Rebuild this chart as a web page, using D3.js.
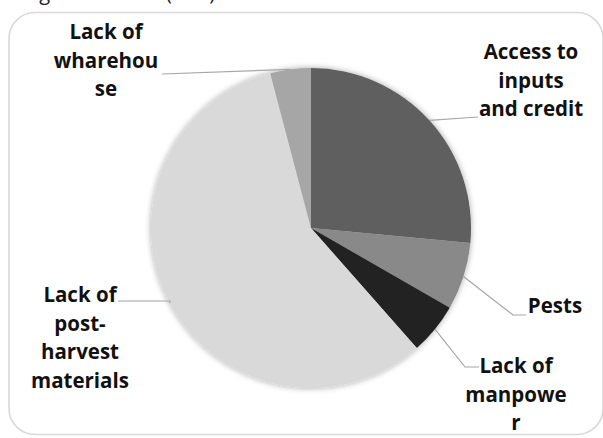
<!DOCTYPE html>
<html>
<head>
<meta charset="utf-8">
<script src="https://cdn.jsdelivr.net/npm/d3@7"></script>
<style>
  html, body { margin: 0; padding: 0; background: #fff; }
  svg { display: block; }
  .slice-label { font-family: "Open Sans", "DejaVu Sans", sans-serif; font-weight: bold; font-size: 20.5px; fill: #111; }
</style>
</head>
<body>
<div id="chart"></div>
<script>
// categories, clockwise from 12 o'clock
const categories = ["Access to inputs and credit", "Pests", "Lack of manpower",
  "Lack of post-harvest materials", "Lack of wharehouse"];
const values = [26.5, 6.8, 5.2, 57.4, 4.1];
const colors = ["#5f5f5f", "#898989", "#222222", "#d9d9d9", "#a6a6a6"];
// label text as wrapped in the original
const labelLines = [
  ["Access to", "inputs", "and credit"],
  ["Pests"],
  ["Lack of", "manpowe", "r"],
  ["Lack of", "post-", "harvest", "materials"],
  ["Lack of", "wharehou", "se"]
];

(function() {
  const width = 603, height = 438;
  const cx = 311, cy = 228, radius = 160;
  const lineH = 28.5;
  // label placement (centre x, first baseline) and leader elbow
  const layout = [
    {x: 531, y: 59, elbow: [478, 117], end: [478, 117]},
    {x: 555, y: 313, elbow: [513, 315], end: [526, 315]},
    {x: 516, y: 373, elbow: [465, 367], end: [479, 367]},
    {x: 80, y: 302, elbow: [170, 301], end: [118, 301]},
    {x: 106, y: 39, elbow: [162, 74], end: [162, 74]}
  ];

  const svg = d3.select("#chart").append("svg")
      .attr("width", width)
      .attr("height", height);

  const defs = svg.append("defs");
  const f = defs.append("filter").attr("id", "soft")
      .attr("x", "-10%").attr("y", "-10%").attr("width", "120%").attr("height", "120%");
  f.append("feGaussianBlur").attr("in", "SourceAlpha").attr("stdDeviation", 3).attr("result", "b");
  f.append("feComponentTransfer").attr("in", "b").attr("result", "s")
    .append("feFuncA").attr("type", "linear").attr("slope", 0.35);
  const m = f.append("feMerge");
  m.append("feMergeNode").attr("in", "s");
  m.append("feMergeNode").attr("in", "SourceGraphic");

  // clipped title above the chart frame
  svg.append("text")
      .attr("x", 24).attr("y", 0)
      .style("font-family", "'Open Sans', sans-serif").style("font-size", "20px").style("fill", "#222")
      .text("Figure");
  svg.append("text")
      .attr("x", 166).attr("y", 0)
      .style("font-family", "'Open Sans', sans-serif").style("font-size", "20px").style("fill", "#222")
      .attr("xml:space", "preserve")
      .text("(  %  )");

  // chart frame
  svg.append("rect")
      .attr("x", 9).attr("y", 12.5)
      .attr("width", 594).attr("height", 422)
      .attr("rx", 26).attr("ry", 26)
      .style("fill", "#fff")
      .style("stroke", "#d9d9d9")
      .style("stroke-width", 1.6);

  const pie = d3.pie().sort(null).value(d => d);
  const arcs = pie(values);
  const arc = d3.arc().innerRadius(0).outerRadius(radius);

  const g = svg.append("g").attr("transform", "translate(" + cx + "," + cy + ")");
  g.append("g").attr("filter", "url(#soft)")
    .selectAll("path")
    .data(arcs)
    .enter().append("path")
      .attr("d", arc)
      .style("fill", (d, i) => colors[i]);

  // leader lines
  arcs.forEach((d, i) => {
    const a = (d.startAngle + d.endAngle) / 2;
    const px = cx + radius * Math.sin(a), py = cy - radius * Math.cos(a);
    const L = layout[i];
    svg.append("polyline")
        .attr("points", [[px, py], L.elbow, L.end].map(p => p.join(",")).join(" "))
        .style("fill", "none")
        .style("stroke", "#a6a6a6")
        .style("stroke-width", 1.2);
  });

  // labels
  labelLines.forEach((lines, i) => {
    const L = layout[i];
    const t = svg.append("text")
        .attr("class", "slice-label")
        .attr("text-anchor", "middle")
        .attr("x", L.x).attr("y", L.y);
    lines.forEach((s, j) => {
      t.append("tspan").attr("x", L.x).attr("y", L.y + j * lineH).text(s);
    });
  });
})();
</script>
</body>
</html>
